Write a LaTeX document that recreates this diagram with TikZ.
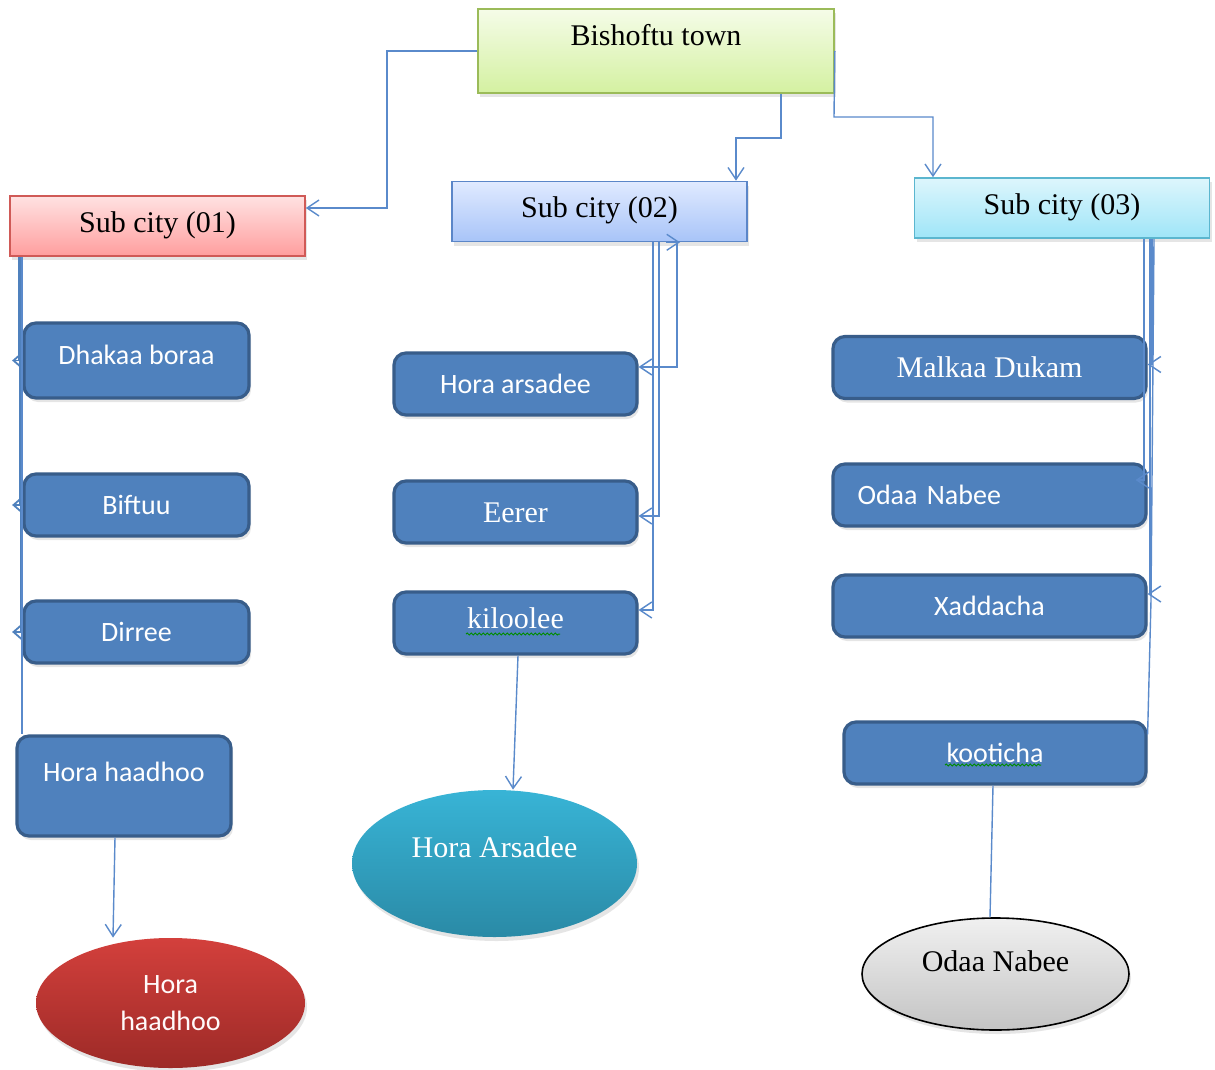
\documentclass[tikz,border=0pt]{standalone}
\usepackage{fontspec}
\setmainfont{Liberation Serif}
\newfontfamily\calibri{Carlito}
\usetikzlibrary{arrows.meta,shadows,shapes.geometric,decorations.pathmorphing}

\definecolor{linkblue}{HTML}{5A8ACB}
\definecolor{boxblue}{HTML}{4F81BD}
\definecolor{boxedge}{HTML}{385D8A}
\definecolor{townTop}{HTML}{F5FCE8}
\definecolor{townBot}{HTML}{D4F1A1}
\definecolor{townEdge}{HTML}{9BBB59}
\definecolor{oneTop}{HTML}{FFE2E2}
\definecolor{oneBot}{HTML}{FF9E9E}
\definecolor{oneEdge}{HTML}{D05A57}
\definecolor{twoTop}{HTML}{E0EAFF}
\definecolor{twoBot}{HTML}{A8C4F8}
\definecolor{twoEdge}{HTML}{5B86C8}
\definecolor{threeTop}{HTML}{DDF6FC}
\definecolor{threeBot}{HTML}{9FE5F8}
\definecolor{threeEdge}{HTML}{5BB6CF}
\definecolor{redTop}{HTML}{D3403C}
\definecolor{redBot}{HTML}{9D2A27}
\definecolor{cyanTop}{HTML}{38B4D6}
\definecolor{cyanBot}{HTML}{2A8AA6}
\definecolor{greyTop}{HTML}{F0F0F0}
\definecolor{greyBot}{HTML}{C4C4C4}

\begin{document}
\begin{tikzpicture}[x=0.5pt,y=-0.5pt,>={Straight Barb[length=6pt,width=8pt]},
  link/.style={draw=linkblue,line width=0.7pt},
  spine/.style={draw=boxblue,line width=0.9pt},
  back tip/.style={-{Straight Barb[reversed,length=4pt,width=7pt]}},
  serif txt/.style={font=\fontsize{15}{18}\selectfont,text height=10pt,text depth=0pt},
  sans txt/.style={font=\calibri\fontsize{14}{17}\selectfont,text height=9pt,text depth=0pt},
  lift/.style={text depth=#1},
  shade box/.style={drop shadow={shadow xshift=1pt,shadow yshift=-2pt,opacity=0.2}},
  town node/.style={rectangle,shade box,serif txt,line width=0.8pt,minimum width=178pt,
    minimum height=42pt,top color=townTop,bottom color=townBot,draw=townEdge},
  sub node/.style={rectangle,shade box,serif txt,line width=0.8pt,minimum width=147.5pt,
    minimum height=30pt,lift=4pt},
  place node/.style={rectangle,rounded corners=6pt,shade box,fill=boxblue,draw=boxedge,
    line width=1.6pt,text=white,sans txt,minimum height=31pt},
  site node/.style={ellipse,shade box,inner sep=0pt},
  spell/.style={green!55!black,line width=0.5pt,decorate,
    decoration={snake,amplitude=0.5pt,segment length=2pt}}]

  \useasboundingbox (0,0) rectangle (1215,1070);
  \fill[white] (0,0) rectangle (1215,1070);

  \node[town node,lift=15pt] (town) at (656,51) {Bishoftu town};
  \node[sub node,top color=oneTop,bottom color=oneBot,draw=oneEdge] (s1) at (157.5,226) {Sub city (01)};
  \node[sub node,top color=twoTop,bottom color=twoBot,draw=twoEdge] (s2) at (599.5,211.5) {Sub city (02)};
  \node[sub node,top color=threeTop,bottom color=threeBot,draw=threeEdge] (s3) at (1062,208) {Sub city (03)};

  % sub city 01
  \node[place node,minimum width=112.5pt,minimum height=37.5pt,lift=5pt] (dhakaa) at (136.5,360.5) {Dhakaa boraa};
  \node[place node,minimum width=112.5pt] (biftuu) at (136.5,505) {Biftuu};
  \node[place node,minimum width=112.5pt] (dirree) at (136.5,632) {Dirree};
  \node[place node,minimum width=107pt,minimum height=50pt,lift=14pt] (horah) at (124,786) {Hora haadhoo};

  % sub city 02
  \node[place node,minimum width=121.5pt] (horaar) at (515.5,384) {Hora arsadee};
  \node[place node,minimum width=121.5pt,serif txt] (eerer) at (515.5,512) {Eerer};
  \node[place node,minimum width=121.5pt,serif txt,lift=5pt] (kiloolee) at (515.5,623) {kiloolee};

  % sub city 03
  \node[place node,minimum width=156.5pt,serif txt] (malkaa) at (989.5,367.5) {Malkaa Dukam};
  \node[place node,minimum width=156.5pt,text width=132pt,align=left,inner xsep=12pt] (odaab) at (989.5,495) {Odaa Nabee};
  \node[place node,minimum width=156.5pt] (xaddacha) at (989.5,606) {Xaddacha};
  \node[place node,minimum width=151pt] (kooticha) at (995,753) {kooticha};

  % sites
  \node[site node,top color=redTop,bottom color=redBot,minimum width=134.5pt,minimum height=65pt,
    text=white!92!pink,font=\calibri\fontsize{14}{18.5}\selectfont,align=center] (elhora) at (170.5,1003) {Hora\\haadhoo};
  \node[site node,top color=cyanTop,bottom color=cyanBot,minimum width=142.5pt,minimum height=73.5pt,
    serif txt,lift=16pt,text=white] (elarsadee) at (494.5,863.5) {Hora Arsadee};
  \node[site node,top color=greyTop,bottom color=greyBot,draw=black,line width=0.8pt,minimum width=133.5pt,
    minimum height=56pt,serif txt,lift=13pt] (elodaa) at (995.5,974) {Odaa Nabee};

  \draw[spell] ([xshift=-24.75pt,yshift=-5.5pt]kiloolee.center) -- ++(47pt,0);
  \draw[spell] ([xshift=-25pt,yshift=-6pt]kooticha.center) -- ++(48pt,0);

  % town to sub cities
  \draw[link,->] (town.west) -| (387,208) -- (s1.east |- 387,208);
  \draw[link,->] (town.south -| 781,0) -- (781,138) -| (s2.north -| 736,0);
  \draw[link,->] (town.east) -- (834,117) -| (s3.north -| 933,0);

  % sub city 01
  \draw[spine,back tip] (s1.south -| 19,0) |- (dhakaa.west);
  \draw[spine,back tip] (s1.south -| 20,0) |- (biftuu.west);
  \draw[spine,back tip] (s1.south -| 21,0) |- (dirree.west);
  \draw[link] (s1.south -| 22,0) -- (horah.north -| 22,0);

  % sub city 02
  \draw[link,->] (s2.south -| 677,0) |- ([yshift=8.5pt]horaar.east);
  \draw[link,->] (s2.south -| 666,0) -- (s2.south -| 680,0);
  \draw[link,->] (s2.south -| 659,0) |- ([yshift=-2pt]eerer.east);
  \draw[link,->] (s2.south -| 653,0) |- ([yshift=6.5pt]kiloolee.east);

  % sub city 03
  \draw[link,->] (s3.south -| 1152,0) |- ([yshift=1.5pt]malkaa.east);
  \draw[link,->] (s3.south -| 1144,0) |- ([xshift=-6pt,yshift=7.5pt]odaab.east);
  \draw[link,->] (s3.south -| 1150,0) |- ([yshift=6pt]xaddacha.east);
  \draw[link] (s3.south -| 1154,0) -- (1151,600) -- ([yshift=-7pt]kooticha.north east);

  % down to the sites
  \draw[link,->] (horah.south -| 115,0) -- (elhora.north -| 113,0);
  \draw[link,->] (kiloolee.south -| 518,0) -- (elarsadee.north -| 513,0);
  \draw[link] (kooticha.south -| 993,0) -- (elodaa.north -| 990,0);
\end{tikzpicture}
\end{document}
